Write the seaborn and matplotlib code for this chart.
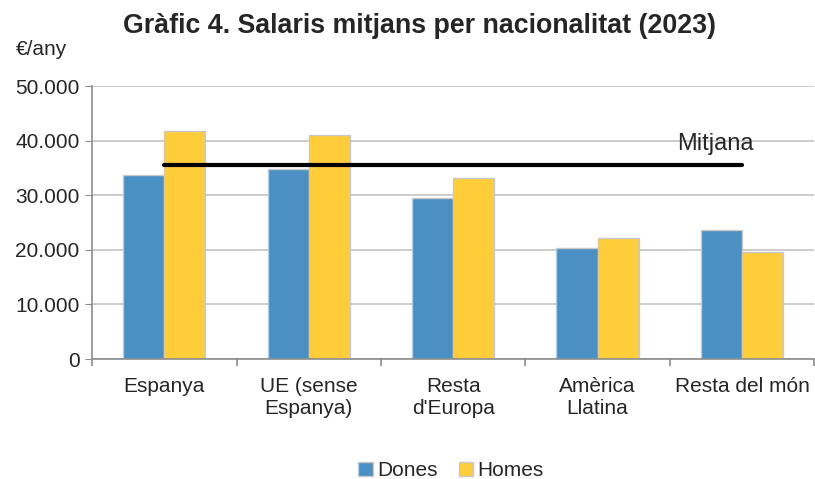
import matplotlib
matplotlib.use("Agg")
from matplotlib import pyplot as plt
from matplotlib.ticker import FuncFormatter, FixedLocator
import pandas as pd
import seaborn as sns

categories = ["Espanya", "UE (sense\nEspanya)", "Resta\nd'Europa", "Amèrica\nLlatina", "Resta del món"]
dones = [33700, 34800, 29500, 20300, 23600]
homes = [41800, 41000, 33200, 22200, 19600]
mitjana = 35500

df = pd.DataFrame({
    "cat": categories * 2,
    "sexe": ["Dones"] * 5 + ["Homes"] * 5,
    "salari": dones + homes,
})

sns.set_style("white")
plt.rcParams['font.family'] = ['Liberation Sans', 'DejaVu Sans']

f = plt.figure(figsize=(8.15, 4.79), dpi=100)
ax = f.add_axes([0.113, 0.2505, 0.886, 0.5695])
ax.set_axisbelow(True)
ax.yaxis.grid(True, color='#c4c4c4', linewidth=1.2)

sns.barplot(data=df, x='cat', y='salari', hue='sexe', order=categories,
            palette={'Dones': '#4a90c4', 'Homes': '#ffcc3a'}, width=0.57,
            saturation=1, edgecolor='#c8c8c8', linewidth=1, ax=ax)

ax.plot(range(len(categories)), [mitjana] * len(categories), color='black', linewidth=3, zorder=5)
ax.text(3.55, mitjana + 2800, 'Mitjana', fontsize=17, ha='left', va='baseline')

ax.set_ylim(0, 50000)
ax.set_xlim(-0.5, 4.5)
ax.yaxis.set_major_formatter(FuncFormatter(lambda v, p: f"{int(v):,}".replace(",", ".")))
ax.set_yticks(range(0, 50001, 10000))
ax.set_xlabel('')
ax.set_ylabel('')

for s in ['top', 'right']:
    ax.spines[s].set_visible(False)
for s in ['left', 'bottom']:
    ax.spines[s].set_color('#8c8c8c')
    ax.spines[s].set_linewidth(1.2)

ax.tick_params(axis='y', left=True, length=5, color='#8c8c8c', labelsize=15, pad=4)
ax.tick_params(axis='x', which='major', length=0, labelsize=15, pad=13)
ax.xaxis.set_minor_locator(FixedLocator([-0.5, 0.5, 1.5, 2.5, 3.5, 4.5]))
ax.tick_params(axis='x', which='minor', bottom=True, length=5, color='#8c8c8c', width=1.2)
for t in ax.get_xticklabels():
    t.set_linespacing(1.2)

ax.legend(loc='center', bbox_to_anchor=(0.497, -0.41), ncol=2, frameon=False,
          fontsize=15, handlelength=0.7, handleheight=0.7, handletextpad=0.2,
          columnspacing=1.0)

f.text(0.515, 0.945, 'Gràfic 4. Salaris mitjans per nacionalitat (2023)',
       fontsize=19.3, fontweight='bold', ha='center', va='center')
f.text(0.02, 0.897, '€/any', fontsize=15, ha='left', va='center')

plt.savefig('out.png', dpi=100)
